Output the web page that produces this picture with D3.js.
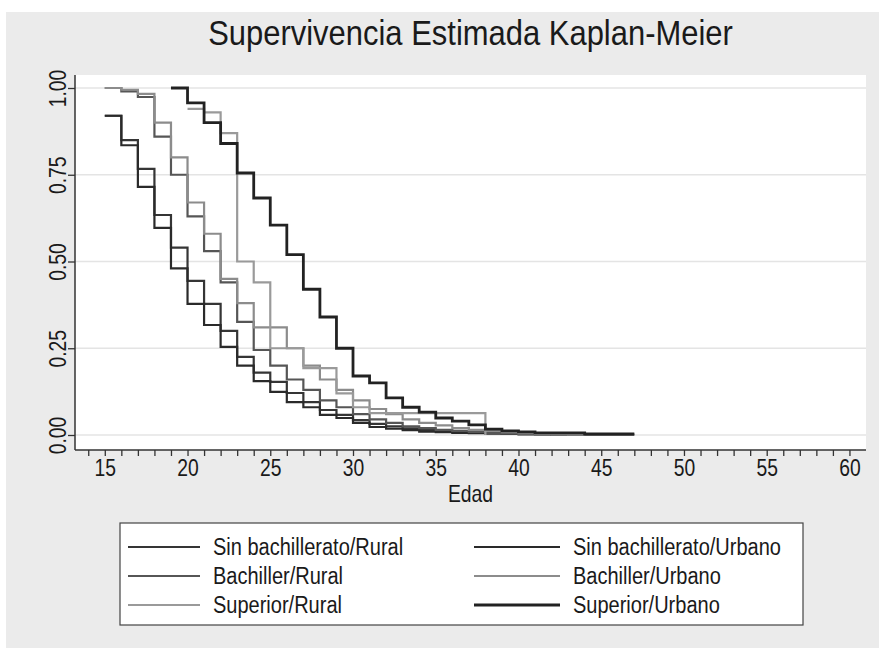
<!DOCTYPE html>
<html>
<head>
<meta charset="utf-8">
<script src="https://cdn.jsdelivr.net/npm/d3@7"></script>
<style>
  body { margin: 0; background: #fff; }
  text { font-family: "Liberation Sans", Arial, sans-serif; fill: #1a1a1a; }
</style>
</head>
<body>
<div id="chart"></div>
<script>
var w = 879;
var h = 648;

// edades (inicio de cada escalón)
var ages = [15,16,17,18,19,20,21,22,23,24,25,26,27,28,29,30,
            31,32,33,34,35,36,37,38,39,40,41,42,43,44,45,46];

var sinBachRural = [.92,.85,.767,.634,.54,.444,.378,.30,.225,.18,.153,.121,.095,.072,.058,.043,
                    .032,.025,.019,.015,.012,.009,.007,.006,.005,.004,.003,.002,.002,.001,.001,.001];
var sinBachUrbano = [.92,.835,.715,.597,.48,.378,.317,.254,.20,.155,.124,.095,.08,.058,.049,.035,
                     .023,.018,.014,.01,.008,.006,.005,.004,.003,.002,.002,.001,.001,null,null,null];
var bachRural = [1,.99,.974,.86,.75,.63,.53,.44,.326,.245,.20,.16,.13,.10,.08,.06,
                 .045,.035,.025,.02,.015,.012,.009,.006,.004,.003,.002,.001,null,null,null,null];
var bachUrbano = [1,.995,.983,.90,.80,.67,.58,.45,.38,.31,.31,.25,.20,.16,.13,.10,
                  .075,.06,.045,.035,.028,.02,.015,.012,.008,.005,.003,.002,.001,null,null,null];
var supRural = [null,null,null,null,null,.94,.93,.87,.50,.44,.25,.25,.193,.193,.12,.08,
                .063,.063,.063,.063,.063,.063,.063,0,null,null,null,null,null,null,null,null];
var supUrbano = [null,null,null,null,1,.957,.90,.84,.755,.683,.605,.52,.42,.34,.25,.17,
                 .15,.107,.08,.066,.049,.04,.029,.017,.012,.009,.006,.006,.006,.003,.003,.003];

var seriesNames = ["Sin bachillerato/Rural", "Sin bachillerato/Urbano",
                   "Bachiller/Rural", "Bachiller/Urbano",
                   "Superior/Rural", "Superior/Urbano"];
var seriesValues = [sinBachRural, sinBachUrbano, bachRural, bachUrbano, supRural, supUrbano];
var lastAges = [47, 44, 43, 44, 38, 47];

var yTicks = [0, .25, .5, .75, 1];

// estilos
var colors = ["#353535", "#2a2a2a", "#565656", "#8c8c8c", "#9a9a9a", "#222222"];
var widths = [2.2, 2.2, 2.2, 2.2, 2.2, 2.8];
var squeeze = "scale(0.84,1)";

var plotLeft = 75, plotRight = 866, plotTop = 75, plotBottom = 450;

var xScale = d3.scaleLinear()
               .domain([13.2, 61])
               .range([plotLeft, plotRight]);

var yScale = d3.scaleLinear()
               .domain([0, 1])
               .range([435, 88]);

var svg = d3.select("#chart")
            .append("svg")
            .attr("width", w)
            .attr("height", h);

svg.append("rect")
   .attr("x", 6)
   .attr("y", 12)
   .attr("width", w - 6)
   .attr("height", h - 12)
   .attr("fill", "#ebebeb");

svg.append("rect")
   .attr("x", plotLeft)
   .attr("y", plotTop)
   .attr("width", plotRight - plotLeft)
   .attr("height", plotBottom - plotTop)
   .attr("fill", "#fff");

svg.append("text")
   .attr("transform", "translate(" + (plotLeft + plotRight) / 2 + ",45) scale(0.86,1)")
   .attr("text-anchor", "middle")
   .style("font-size", "36px")
   .text("Supervivencia Estimada Kaplan-Meier");

// rejilla
svg.append("g")
   .selectAll("line")
   .data(yTicks)
   .enter()
   .append("line")
   .attr("x1", plotLeft)
   .attr("x2", plotRight)
   .attr("y1", function(d) { return yScale(d); })
   .attr("y2", function(d) { return yScale(d); })
   .attr("stroke", "#e4e4e4")
   .attr("stroke-width", 1.5);

// curvas
var line = d3.line()
             .x(function(d) { return xScale(d[0]); })
             .y(function(d) { return yScale(d[1]); })
             .curve(d3.curveStepAfter);

seriesValues.forEach(function(vals, i) {
  var pts = [];
  ages.forEach(function(a, j) {
    if (vals[j] != null) pts.push([a, vals[j]]);
  });
  pts.push([lastAges[i], pts[pts.length - 1][1]]);
  svg.append("path")
     .datum(pts)
     .attr("d", line)
     .attr("fill", "none")
     .attr("stroke", colors[i])
     .attr("stroke-width", widths[i]);
});

var xAxis = d3.axisBottom(xScale)
              .tickValues(d3.range(14, 61))
              .tickSize(6)
              .tickSizeOuter(0)
              .tickFormat(function(d) { return d % 5 == 0 ? d : ""; });

var yAxis = d3.axisLeft(yScale)
              .tickValues(yTicks)
              .tickSize(7)
              .tickSizeOuter(0)
              .tickFormat(d3.format(".2f"));

var gx = svg.append("g")
            .attr("transform", "translate(0," + plotBottom + ")")
            .call(xAxis);
gx.select(".domain").remove();
gx.append("line")
  .attr("x1", plotLeft).attr("x2", plotRight)
  .attr("stroke", "#333").attr("stroke-width", 1.5);
gx.selectAll(".tick line").attr("stroke", "#333").attr("stroke-width", 1.3);
gx.selectAll("text")
  .attr("y", 0)
  .attr("dy", 0)
  .attr("transform", "translate(0,26) " + squeeze)
  .style("font-size", "23px")
  .style("font-family", "'Liberation Sans', Arial, sans-serif")
  .attr("fill", "#1a1a1a");

var gy = svg.append("g")
            .attr("transform", "translate(" + plotLeft + ",0)")
            .call(yAxis);
gy.select(".domain").remove();
gy.append("line")
  .attr("y1", plotTop).attr("y2", plotBottom)
  .attr("stroke", "#333").attr("stroke-width", 1.5);
gy.selectAll(".tick line").attr("stroke", "#333").attr("stroke-width", 1.3);
gy.selectAll("text")
  .attr("transform", "rotate(-90) " + squeeze)
  .attr("x", 0)
  .attr("y", -9)
  .attr("dy", 0)
  .attr("text-anchor", "middle")
  .style("font-size", "23px")
  .style("font-family", "'Liberation Sans', Arial, sans-serif")
  .attr("fill", "#1a1a1a");

svg.append("text")
   .attr("transform", "translate(" + (plotLeft + plotRight) / 2 + ",502) " + squeeze)
   .attr("text-anchor", "middle")
   .style("font-size", "23px")
   .text("Edad");

// leyenda
var legend = svg.append("g");
legend.append("rect")
      .attr("x", 120)
      .attr("y", 523)
      .attr("width", 683)
      .attr("height", 102)
      .attr("fill", "#fff")
      .attr("stroke", "#444")
      .attr("stroke-width", 1.2);

var items = legend.selectAll("g.item")
                  .data(seriesNames)
                  .enter()
                  .append("g")
                  .attr("class", "item")
                  .attr("transform", function(d, i) {
                    var col = i % 2, row = Math.floor(i / 2);
                    return "translate(" + (col == 0 ? 128 : 474) + "," + (547 + row * 29) + ")";
                  });

items.append("line")
     .attr("x1", 0)
     .attr("x2", function(d, i) { return i % 2 == 0 ? 72 : 86; })
     .attr("stroke", function(d, i) { return colors[i]; })
     .attr("stroke-width", function(d, i) { return widths[i]; });

items.append("text")
     .attr("transform", function(d, i) {
       return "translate(" + (i % 2 == 0 ? 85 : 99) + ",8) scale(0.87,1)";
     })
     .style("font-size", "23px")
     .text(function(d) { return d; });
</script>
</body>
</html>
